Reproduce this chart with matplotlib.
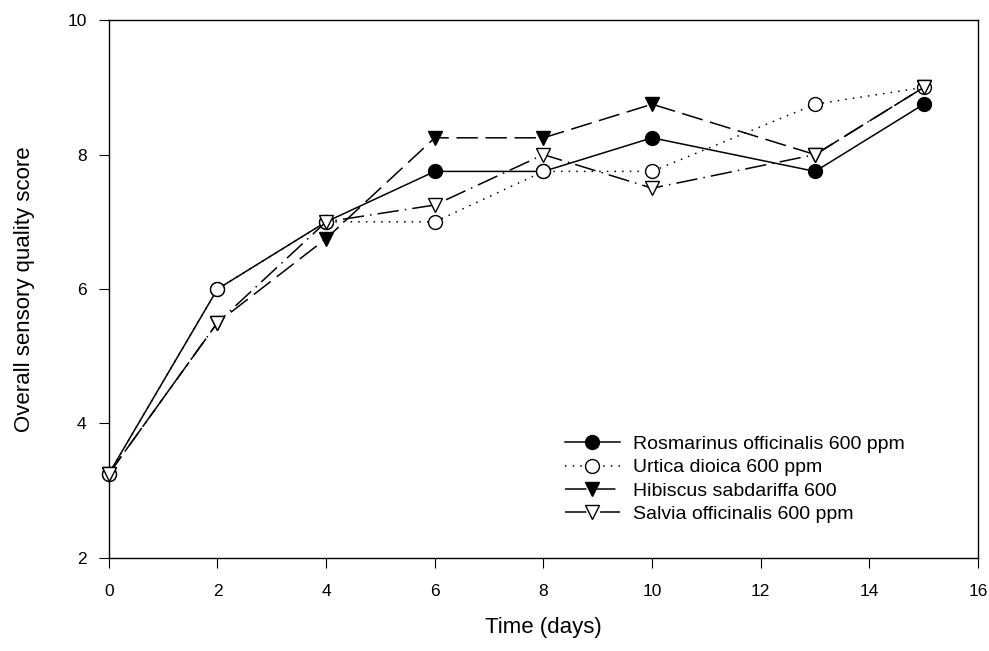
import matplotlib.pyplot as plt

plt.rcParams['font.family'] = ['Liberation Sans', 'DejaVu Sans']

# Sampling days
days = [0, 2, 4, 6, 8, 10, 13, 15]

# Overall sensory quality scores
rosmarinus = [3.25, 6.0, 7.0, 7.75, 7.75, 8.25, 7.75, 8.75]
urtica = [3.25, 6.0, 7.0, 7.0, 7.75, 7.75, 8.75, 9.0]
hibiscus = [3.25, 5.5, 6.75, 8.25, 8.25, 8.75, 8.0, 9.0]
salvia = [3.25, 5.5, 7.0, 7.25, 8.0, 7.5, 8.0, 9.0]

labels = ["Rosmarinus officinalis 600 ppm", "Urtica dioica 600 ppm",
          "Hibiscus sabdariffa 600", "Salvia officinalis 600 ppm"]

fig = plt.figure(figsize=(9.89, 6.51), dpi=100)
ax = fig.add_axes([0.110, 0.143, 0.879, 0.826])

ms = 10
common = dict(color="black", lw=1.1, ms=ms, mec="black", clip_on=False)
ax.plot(days, rosmarinus, ls="-", marker="o", mfc="black",
        label=labels[0], zorder=3, **common)
ax.plot(days, urtica, ls=(0, (1, 4)), marker="o", mfc="white",
        label=labels[1], zorder=4, **common)
ax.plot(days, hibiscus, ls=(0, (14, 5)), marker="v", mfc="black",
        label=labels[2], zorder=3, **common)
ax.plot(days, salvia, ls=(0, (14, 4, 1, 4)), marker="v", mfc="white",
        label=labels[3], zorder=5, **common)

ax.set_xlim(0, 16)
ax.set_ylim(2, 10)
ax.set_xticks(range(0, 17, 2))
ax.set_yticks(range(2, 11, 2))
ax.tick_params(direction="out", length=7, labelsize=12.5, top=False, right=False)
ax.tick_params(axis="x", pad=12)
ax.tick_params(axis="y", pad=9)
for s in ax.spines.values():
    s.set_linewidth(1.0)

ax.set_xlabel("Time (days)", fontsize=16, labelpad=13)
ax.set_ylabel("Overall sensory quality score", fontsize=16, labelpad=23)

ax.legend(loc="upper left", frameon=False, fontsize=14, handlelength=2.8,
          handletextpad=0.7, labelspacing=0.3, borderpad=0, borderaxespad=0,
          bbox_to_anchor=(0.525, 0.228))

fig.savefig("out.png", dpi=100)
